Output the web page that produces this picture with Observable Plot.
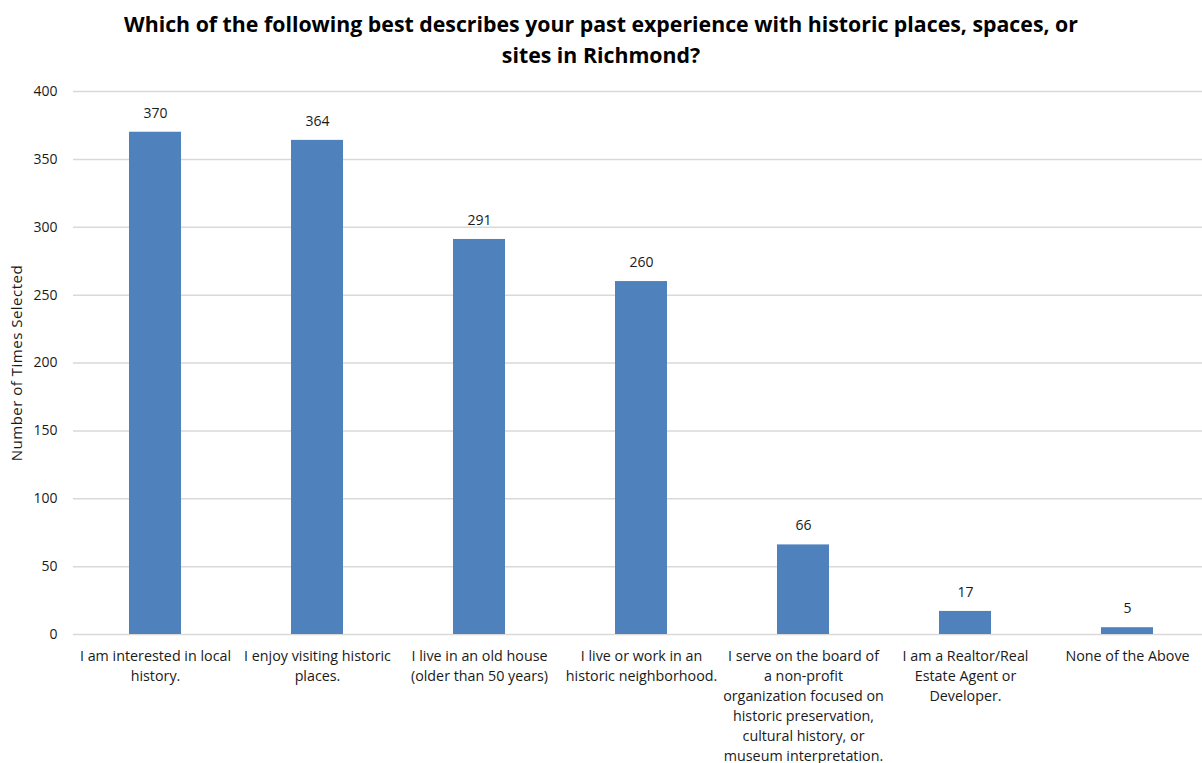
<!DOCTYPE html>
<html>
<head>
<meta charset="utf-8">
<script src="https://cdn.jsdelivr.net/npm/d3@7"></script>
<script src="https://cdn.jsdelivr.net/npm/@observablehq/plot@0.6"></script>
<style>
  html, body { margin: 0; padding: 0; background: #fff; overflow: hidden; }
  #title { font-family: "Open Sans", Lato, sans-serif; font-weight: 700; font-size: 21.3px; line-height: 31px;
           text-align: center; height: 80px; box-sizing: border-box; padding-top: 8px; color: #000; width: 1202px; }
</style>
</head>
<body>
<div id="title">Which of the following best describes your past experience with historic places, spaces, or<br>sites in Richmond?</div>
<div id="chart"></div>
<script>
const categories = [
  "I am interested in local history.",
  "I enjoy visiting historic places.",
  "I live in an old house (older than 50 years)",
  "I live or work in an historic neighborhood.",
  "I serve on the board of a non-profit organization focused on historic preservation, cultural history, or museum interpretation.",
  "I am a Realtor/Real Estate Agent or Developer.",
  "None of the Above"
];
const values = [370, 364, 291, 260, 66, 17, 5];
const tickLabels = [
  "I am interested in local\nhistory.",
  "I enjoy visiting historic\nplaces.",
  "I live in an old house\n(older than 50 years)",
  "I live or work in an\nhistoric neighborhood.",
  "I serve on the board of\na non-profit\norganization focused on\nhistoric preservation,\ncultural history, or\nmuseum interpretation.",
  "I am a Realtor/Real\nEstate Agent or\nDeveloper.",
  "None of the Above"
];
const yTicks = [0, 50, 100, 150, 200, 250, 300, 350, 400];
const yLabel = "Number of Times Selected";

const data = categories.map((c, i) => ({category: c, value: values[i]}));
const labelOf = new Map(categories.map((c, i) => [c, tickLabels[i]]));
const font = "'Open Sans', Lato, sans-serif";

const chart = Plot.plot({
  width: 1202,
  height: 683,
  marginLeft: 73,
  marginRight: 0,
  marginTop: 11,
  marginBottom: 129,
  style: {fontFamily: font, fontSize: "14px", color: "#1a1a1a", overflow: "visible", background: "#fff"},
  x: {domain: categories, range: [73, 1209], paddingInner: 0.68, paddingOuter: 0.34, label: null},
  y: {domain: [0, 400], label: null},
  marks: [
    Plot.gridY(yTicks, {stroke: "#d9d9d9", strokeOpacity: 1, strokeWidth: 1.5}),
    Plot.barY(data, {x: "category", y: "value", fill: "#4f81bd"}),
    Plot.text(data, {x: "category", y: "value", text: d => String(d.value), dy: -19, fontSize: 14, fill: "#1a1a1a"}),
    Plot.axisY({ticks: yTicks, tickSize: 0, tickPadding: 16, fontSize: 14, label: null}),
    Plot.text([yLabel], {frameAnchor: "left", textAnchor: "middle", rotate: -90, dx: -56, fontSize: 15, fill: "#1a1a1a"}),
    Plot.axisX({tickSize: 0, tickPadding: 12, fontSize: 14.3, lineHeight: 1.4, tickFormat: d => labelOf.get(d), label: null})
  ]
});
document.getElementById("chart").appendChild(chart);
d3.select(chart).selectAll("text").filter(function() { return this.textContent === yLabel; })
  .style("letter-spacing", "0.5px");
</script>
</body>
</html>
